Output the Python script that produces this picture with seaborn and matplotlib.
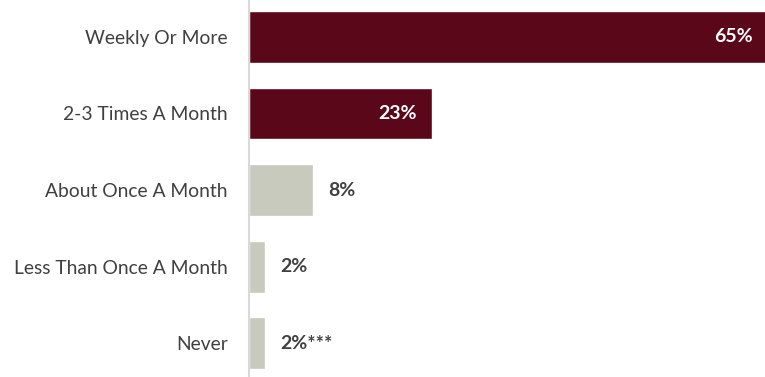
import pandas as pd
import matplotlib.pyplot as plt
import seaborn as sns

categories = ["Weekly Or More", "2-3 Times A Month", "About Once A Month",
              "Less Than Once A Month", "Never"]
values = [65, 23, 8, 2, 2]
value_labels = ["65%", "23%", "8%", "2%", "2%***"]
highlight = [True, True, False, False, False]

df = pd.DataFrame({"category": categories, "value": values, "hl": highlight})

sns.set_style("white")
plt.rcParams['font.family'] = ['Lato', 'DejaVu Sans']

fig = plt.figure(figsize=(7.65, 3.77), dpi=100)
ax = fig.add_axes([0.325, 0.0, 0.675, 1.0])

maroon = "#5a0819"
grey = "#c8cabd"
palette = {True: maroon, False: grey}
sns.barplot(data=df, x="value", y="category", hue="hl", palette=palette,
            dodge=False, legend=False, width=0.675, ax=ax, saturation=1)

# the top bar runs slightly past the right edge, as in the original
ax.set_xlim(0, 64.6)
ax.set_ylim(4.44, -0.48)
ax.set_xlabel("")
ax.set_ylabel("")
ax.set_xticks([])
for s in ["top", "right", "bottom"]:
    ax.spines[s].set_visible(False)
ax.spines["left"].set_color("#d9d9d9")
ax.spines["left"].set_linewidth(1.5)
ax.tick_params(axis="y", length=0, pad=15, labelsize=13.9, labelcolor="#404040")

# value labels: inside for the big maroon bars, outside for the rest
for i, (v, lab, h) in enumerate(zip(values, value_labels, highlight)):
    if h:
        ax.annotate(lab, (v, i), xytext=(-11, 0), textcoords="offset points",
                    ha="right", va="center", color="white",
                    fontsize=14, fontweight="bold", annotation_clip=False)
    else:
        ax.annotate(lab, (v, i), xytext=(11, 0), textcoords="offset points",
                    ha="left", va="center", color="#404040",
                    fontsize=14, fontweight="bold")

fig.savefig("out.png", dpi=100)
